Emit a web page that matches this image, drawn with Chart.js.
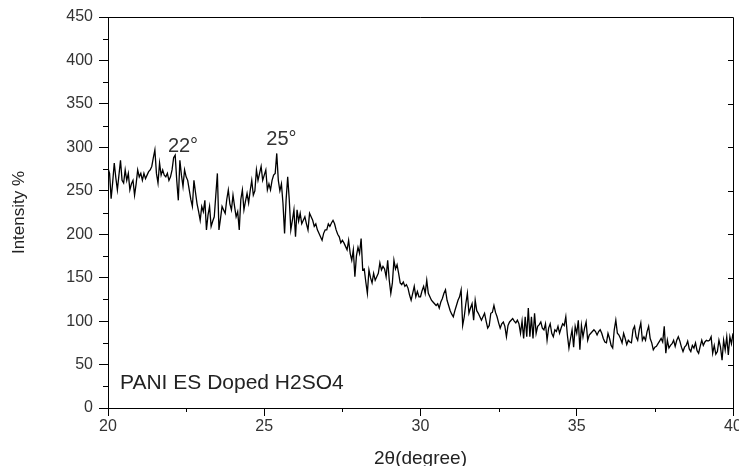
<!DOCTYPE html>
<html>
<head>
<meta charset="utf-8">
<script src="https://cdn.jsdelivr.net/npm/chart.js@4.4.0/dist/chart.umd.min.js"></script>
<style>
  html, body { margin: 0; padding: 0; background: #fff; }
  #wrap { width: 739px; height: 466px; position: relative; }
</style>
</head>
<body>
<div id="wrap"><canvas id="xrdChart"></canvas></div>
<script>
// XRD scan, 2θ from 20° to 40°, one reading every 0.05°
const startAngle = 20;
const angleStep = 0.05;

// intensity, one row per degree (20.00 ... 20.95 etc.)
const intensity = [
  276, 270, 241, 260, 282, 265, 251, 268, 285, 262, 259, 274, 262, 270, 251, 258, 262, 245, 258, 274,
  266, 270, 262, 270, 264, 268, 272, 274, 278, 288, 297, 270, 259, 282, 268, 274, 268, 266, 270, 262,
  266, 274, 288, 291, 262, 239, 285, 268, 255, 274, 266, 262, 251, 240, 232, 262, 248, 235, 226, 216,
  232, 226, 239, 205, 222, 232, 209, 215, 220, 245, 270, 205, 218, 232, 228, 224, 240, 251, 235, 228,
  245, 232, 220, 226, 205, 240, 251, 228, 238, 247, 236, 250, 262, 245, 250, 274, 262, 270, 278, 262,
  268, 274, 251, 258, 251, 262, 268, 270, 293, 262, 250, 258, 235, 201, 240, 266, 240, 205, 216, 228,
  197, 228, 215, 224, 212, 216, 220, 212, 205, 224, 220, 216, 209, 212, 205, 201, 197, 193, 201, 205,
  205, 212, 209, 213, 216, 212, 205, 200, 197, 190, 193, 190, 186, 182, 193, 178, 170, 182, 151, 175,
  185, 178, 195, 159, 160, 145, 132, 159, 150, 144, 155, 147, 151, 155, 167, 159, 163, 160, 151, 170,
  147, 132, 144, 170, 160, 165, 155, 144, 142, 145, 140, 142, 138, 130, 124, 132, 140, 128, 134, 128,
  128, 135, 140, 132, 147, 132, 128, 124, 122, 120, 118, 120, 115, 122, 126, 132, 136, 124, 118, 112,
  108, 105, 112, 118, 124, 128, 136, 95, 105, 120, 132, 109, 115, 120, 101, 124, 112, 109, 105, 101,
  105, 109, 100, 92, 95, 109, 110, 118, 110, 105, 98, 92, 97, 99, 94, 82, 95, 99, 101, 103,
  100, 98, 101, 97, 86, 100, 80, 105, 82, 115, 82, 105, 80, 109, 86, 94, 96, 99, 92, 90,
  97, 78, 92, 97, 86, 82, 90, 88, 94, 86, 92, 97, 95, 105, 84, 69, 80, 90, 70, 94,
  86, 101, 67, 95, 82, 92, 99, 78, 84, 86, 88, 90, 88, 84, 88, 90, 86, 80, 76, 75,
  86, 80, 72, 69, 90, 101, 86, 84, 80, 75, 86, 80, 73, 78, 76, 75, 90, 94, 82, 78,
  90, 98, 78, 82, 78, 88, 94, 80, 75, 67, 70, 71, 74, 77, 80, 76, 94, 63, 78, 69,
  72, 74, 78, 71, 78, 82, 77, 70, 65, 70, 72, 77, 68, 65, 72, 69, 75, 66, 63, 71,
  78, 72, 76, 78, 77, 78, 82, 63, 72, 62, 65, 78, 70, 55, 78, 67, 82, 61, 82, 74,
  86
];

const twoTheta = intensity.map((_, i) => +(startAngle + i * angleStep).toFixed(2));

const xTicks = [20, 25, 30, 35, 40];
const xMinorTicks = [22.5, 27.5, 32.5, 37.5];
const yTicks = [0, 50, 100, 150, 200, 250, 300, 350, 400, 450];
const yMinorTicks = [25, 75, 125, 175, 225, 275, 325, 375, 425];

const peakLabels = [
  { text: '22°', angle: 22.4, value: 301 },
  { text: '25°', angle: 25.55, value: 309 }
];
const sampleName = 'PANI ES Doped H2SO4';

const fontFamily = '"Liberation Sans", Arial, sans-serif';

// frame, minor ticks and text labels
const extrasPlugin = {
  id: 'extras',
  afterDraw(chart) {
    const { ctx, chartArea: area, scales } = chart;
    const x = scales.x, y = scales.y;
    ctx.save();
    ctx.strokeStyle = '#000';
    ctx.lineWidth = 1;

    ctx.beginPath();
    ctx.moveTo(area.left, area.top + 0.5);
    ctx.lineTo(area.right + 0.5, area.top + 0.5);
    ctx.lineTo(area.right + 0.5, area.bottom);
    ctx.stroke();

    ctx.beginPath();
    xMinorTicks.forEach(v => {
      const px = Math.round(x.getPixelForValue(v)) + 0.5;
      ctx.moveTo(px, area.bottom);
      ctx.lineTo(px, area.bottom + 4);
    });
    yMinorTicks.forEach(v => {
      const py = Math.round(y.getPixelForValue(v)) + 0.5;
      ctx.moveTo(area.left - 5, py);
      ctx.lineTo(area.left, py);
    });
    yTicks.forEach(v => {
      const py = Math.round(y.getPixelForValue(v)) + 0.5;
      ctx.moveTo(area.right, py);
      ctx.lineTo(area.right - 5, py);
    });
    ctx.stroke();

    ctx.fillStyle = '#333';
    ctx.font = '20px ' + fontFamily;
    ctx.textAlign = 'center';
    ctx.textBaseline = 'middle';
    peakLabels.forEach(p => {
      ctx.fillText(p.text, x.getPixelForValue(p.angle), y.getPixelForValue(p.value));
    });

    ctx.fillStyle = '#222';
    ctx.font = '21px ' + fontFamily;
    ctx.textAlign = 'left';
    ctx.fillText(sampleName, area.left + 12, area.bottom - 25);
    ctx.restore();
  }
};

const ctx = document.getElementById('xrdChart').getContext('2d');
new Chart(ctx, {
  type: 'line',
  data: {
    datasets: [{
      data: twoTheta.map((t, i) => ({ x: t, y: intensity[i] })),
      borderColor: '#000',
      borderWidth: 1.3,
      pointRadius: 0,
      tension: 0,
      fill: false
    }]
  },
  options: {
    responsive: true,
    maintainAspectRatio: false,
    animation: false,
    layout: { padding: { left: 0, right: 6, top: 17, bottom: 0 } },
    plugins: {
      legend: { display: false },
      tooltip: { enabled: false }
    },
    scales: {
      x: {
        type: 'linear',
        min: 20,
        max: 40,
        afterBuildTicks: s => { s.ticks = xTicks.map(v => ({ value: v })); },
        afterFit: s => { s.height = 58; s.paddingLeft = 0; s.paddingRight = 0; },
        ticks: {
          color: '#333',
          font: { family: fontFamily, size: 16 },
          padding: 1,
          maxRotation: 0,
          autoSkip: false
        },
        grid: { drawOnChartArea: false, drawTicks: true, tickLength: 8, color: '#000' },
        border: { color: '#000', width: 1 },
        title: {
          display: true,
          text: '2θ(degree)',
          color: '#222',
          font: { family: fontFamily, size: 19, lineHeight: 0.8 },
          padding: { top: 0, bottom: 0 }
        }
      },
      y: {
        type: 'linear',
        min: 0,
        max: 450,
        afterBuildTicks: s => { s.ticks = yTicks.map(v => ({ value: v })); },
        afterFit: s => { s.width = 108; s.paddingTop = 0; s.paddingBottom = 0; },
        ticks: {
          color: '#333',
          font: { family: fontFamily, size: 16 },
          padding: 6,
          autoSkip: false
        },
        grid: { drawOnChartArea: false, drawTicks: true, tickLength: 9, color: '#000' },
        border: { color: '#000', width: 1 },
        title: {
          display: true,
          text: 'Intensity %',
          color: '#222',
          font: { family: fontFamily, size: 17 },
          padding: { top: 9, bottom: 0 }
        }
      }
    }
  },
  plugins: [extrasPlugin]
});
</script>
</body>
</html>
